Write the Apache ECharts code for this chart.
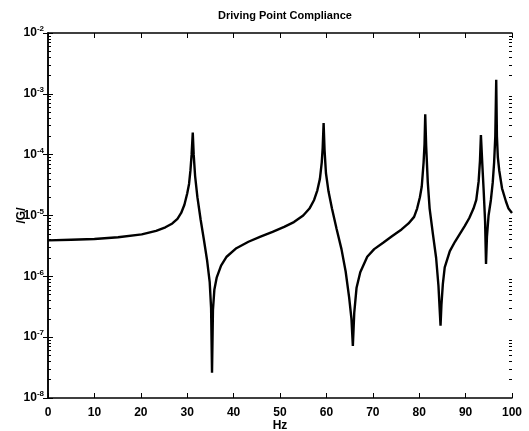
<!DOCTYPE html>
<html>
<head>
<meta charset="utf-8">
<script src="https://cdn.jsdelivr.net/npm/echarts@6/dist/echarts.min.js"></script>
<style>
  html, body { margin: 0; padding: 0; background: #fff; }
  #chart { width: 529px; height: 431px; }
</style>
</head>
<body>
<div id="chart"></div>
<script>
// frequency (Hz) and compliance magnitude |G|
const freqHz = [
  0, 5, 10, 15.1, 20.2, 23.3, 25.3, 26.8, 27.9, 28.7, 29.4, 30.0, 30.4, 30.7, 30.95, 31.2,
  31.4, 31.7, 32.2, 32.9, 33.6, 34.3, 34.85, 35.15, 35.35, 35.55, 35.85, 36.35, 37.3, 38.5,
  40.6, 43.2, 45.8, 48.4, 50.9, 53.0, 55.0, 56.35, 57.35, 58.05, 58.6, 59.0, 59.2, 59.4, 59.6,
  59.9, 60.45, 61.2, 62.2, 63.25, 64.15, 64.9, 65.4, 65.7, 66.0, 66.5, 67.3, 68.8, 70.3,
  72.3, 74.2, 76.2, 77.7, 78.9, 79.55, 80.15, 80.55, 80.95, 81.15, 81.3, 81.5, 81.85, 82.25,
  82.95, 83.65, 84.15, 84.4, 84.6, 84.8, 85.1, 85.5, 86.6, 87.7, 88.7, 89.8, 90.8,
  91.7, 92.3, 92.8, 93.1, 93.3, 93.6, 93.9, 94.2, 94.4, 94.6, 94.95, 95.45, 95.85,
  96.15, 96.4, 96.6, 96.75, 96.95, 97.25, 97.85, 98.7, 99.25, 100
];
const magG = [
  3.9e-6, 4.0e-6, 4.1e-6, 4.4e-6, 4.9e-6, 5.6e-6, 6.4e-6, 7.4e-6, 8.8e-6, 1.1e-5, 1.5e-5, 2.3e-5, 3.3e-5, 5.5e-5, 1.0e-4, 2.3e-4,
  1.0e-4, 4.5e-5, 2.0e-5, 8.5e-6, 4.0e-6, 1.8e-6, 8e-7, 3e-7, 2.6e-8, 2.8e-7, 6e-7, 9.5e-7, 1.5e-6, 2.1e-6,
  2.9e-6, 3.7e-6, 4.5e-6, 5.4e-6, 6.5e-6, 7.8e-6, 1.0e-5, 1.3e-5, 1.8e-5, 2.6e-5, 4e-5, 7.5e-5, 1.3e-4, 3.3e-4, 1.2e-4,
  5e-5, 2.5e-5, 1.3e-5, 6e-6, 2.8e-6, 1.2e-6, 4.5e-7, 2e-7, 7.2e-8, 2.5e-7, 6.5e-7, 1.17e-6, 2.1e-6, 2.8e-6,
  3.6e-6, 4.6e-6, 5.9e-6, 7.4e-6, 9.5e-6, 1.3e-5, 2.0e-5, 3e-5, 7.5e-5, 1.5e-4, 4.6e-4, 1.4e-4, 3.5e-5, 1.3e-5,
  5e-6, 2e-6, 7e-7, 3e-7, 1.55e-7, 3.5e-7, 7.5e-7, 1.4e-6, 2.6e-6, 3.7e-6, 4.9e-6, 6.7e-6, 9.1e-6,
  1.3e-5, 1.8e-5, 3.6e-5, 8e-5, 2.1e-4, 7e-5, 2.5e-5, 8e-6, 1.6e-6, 4.5e-6, 1e-5, 1.8e-5, 3.5e-5,
  7.5e-5, 2e-4, 1.7e-3, 2e-4, 9e-5, 5.5e-5, 2.8e-5, 1.7e-5, 1.3e-5, 1.1e-5
];
const xTicks = [0, 10, 20, 30, 40, 50, 60, 70, 80, 90, 100];
const yExponents = [-8, -7, -6, -5, -4, -3, -2];

const FONT = 'Liberation Sans';
const black = '#000';

// minor tick positions in log10 units (2..9 within each decade)
const minorTicks = [];
yExponents.slice(0, -1).forEach((e) => {
  for (let m = 2; m <= 9; m += 1) minorTicks.push(e + Math.log10(m));
});

const chart = echarts.init(document.getElementById('chart'), null, { renderer: 'canvas' });

const majorY = (position, showLabels) => ({
  type: 'log',
  logBase: 10,
  min: Math.pow(10, yExponents[0]),
  max: Math.pow(10, yExponents[yExponents.length - 1]),
  position,
  name: showLabels ? '/G/' : '',
  nameLocation: 'middle',
  nameGap: 20,
  nameRotate: 90,
  nameMoveOverlap: false,
  nameTextStyle: { color: black, fontFamily: FONT, fontWeight: 'bold', fontSize: 12 },
  axisLine: { show: true, lineStyle: { color: black, width: 1.5 } },
  axisTick: { show: true, inside: true, length: 5, lineStyle: { color: black, width: 1 } },
  splitLine: { show: false },
  axisLabel: {
    show: showLabels,
    margin: 4,
    formatter: (v) => '{b|10}{s|' + Math.round(Math.log10(v)) + '}',
    rich: {
      b: { fontFamily: FONT, fontWeight: 'bold', fontSize: 12, color: black },
      s: { fontFamily: FONT, fontWeight: 'bold', fontSize: 8, color: black, padding: [0, 0, 8, 0] },
    },
  },
});

const minorY = (position) => ({
  type: 'value',
  min: yExponents[0],
  max: yExponents[yExponents.length - 1],
  position,
  axisLine: { show: false },
  axisLabel: { show: false },
  splitLine: { show: false },
  axisTick: { show: true, inside: true, length: 3, customValues: minorTicks, lineStyle: { color: black, width: 1 } },
});

const xAxisBase = (position, showLabels) => ({
  type: 'value',
  min: xTicks[0],
  max: xTicks[xTicks.length - 1],
  interval: 10,
  position,
  name: showLabels ? 'Hz' : '',
  nameLocation: 'middle',
  nameGap: 22,
  nameMoveOverlap: false,
  nameTextStyle: { color: black, fontFamily: FONT, fontWeight: 'bold', fontSize: 12 },
  axisLine: { show: true, lineStyle: { color: black, width: 1.5 } },
  axisTick: { show: true, inside: true, length: 5, lineStyle: { color: black, width: 1 } },
  splitLine: { show: false },
  axisLabel: { show: showLabels, margin: 9, color: black, fontFamily: FONT, fontWeight: 'bold', fontSize: 12 },
});

const option = {
  animation: false,
  backgroundColor: '#fff',
  title: {
    text: 'Driving Point Compliance',
    left: 280,
    textAlign: 'center',
    top: 5,
    textStyle: { color: black, fontFamily: FONT, fontWeight: 'bold', fontSize: 11 },
  },
  grid: { left: 48, right: 17, top: 33, bottom: 33, containLabel: false, outerBoundsMode: 'none' },
  xAxis: [xAxisBase('bottom', true), xAxisBase('top', false)],
  yAxis: [majorY('left', true), majorY('right', false), minorY('left'), minorY('right')],
  series: [
    {
      type: 'line',
      xAxisIndex: 0,
      yAxisIndex: 0,
      data: freqHz.map((f, i) => [f, magG[i]]),
      showSymbol: false,
      lineStyle: { color: black, width: 2.4 },
      clip: true,
    },
  ],
};

chart.setOption(option);
</script>
</body>
</html>
